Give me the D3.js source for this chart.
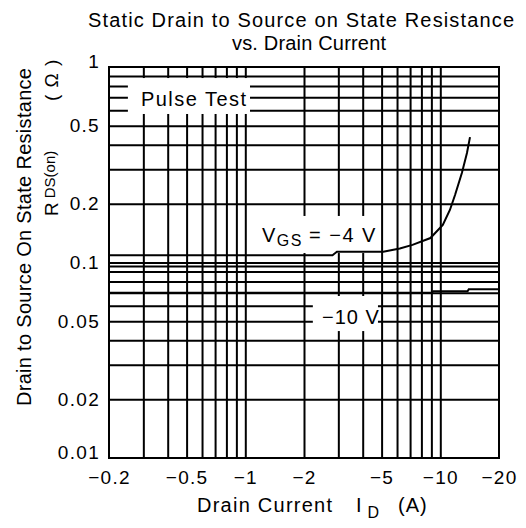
<!DOCTYPE html>
<html>
<head>
<meta charset="utf-8">
<script src="https://cdn.jsdelivr.net/npm/d3@7"></script>
<style>
  body { margin: 0; background: #fff; }
  text { font-family: "Liberation Sans", Arial, sans-serif; fill: #000; }
</style>
</head>
<body>
<div id="chart"></div>
<script>
// ---- data (drain current magnitude in A, resistance in ohm) ----
const xTicks = [0.2, 0.5, 1, 2, 5, 10, 20];
const xTickLabels = ["\u22120.2", "\u22120.5", "\u22121", "\u22122", "\u22125", "\u221210", "\u221220"];
const yTicks = [0.01, 0.02, 0.05, 0.1, 0.2, 0.5, 1];
const yTickLabels = ["0.01", "0.02", "0.05", "0.1", "0.2", "0.5", "1"];
const xGrid = [0.3, 0.4, 0.5, 0.6, 0.7, 0.8, 0.9, 1, 2, 3, 4, 5, 6, 7, 8, 9, 10];
const yGrid = [0.02, 0.03, 0.04, 0.05, 0.06, 0.07, 0.08, 0.09, 0.1,
               0.2, 0.3, 0.4, 0.5, 0.6, 0.7, 0.8, 0.9];

const idVgs4 = [0.2, 2.8, 2.95, 5.1, 6.2, 7.2, 8.9, 10.3, 11.2, 11.9, 12.9, 13.7, 14.2];
const rVgs4  = [0.109, 0.109, 0.1135, 0.1135, 0.118, 0.123, 0.1334, 0.1556, 0.1856, 0.2215, 0.287, 0.363, 0.438];
const idVgs10 = [0.2, 9.0, 9.2, 13.8, 14.0, 20];
const rVgs10  = [0.07, 0.07, 0.0712, 0.0712, 0.073, 0.073];
// extra trace just under 0.1 seen in the scan
const idExtra = [0.2, 20];
const rExtra  = [0.0955, 0.0955];

// ---- layout ----
const width = 526, height = 528;
const margin = { left: 109, right: 499, top: 67, bottom: 458 };

const x = d3.scaleLog().domain([0.2, 20]).range([margin.left, margin.right]);
const y = d3.scaleLog().domain([0.01, 1]).range([margin.bottom, margin.top]);

const svg = d3.select("#chart").append("svg")
  .attr("width", width)
  .attr("height", height);

svg.append("rect").attr("width", width).attr("height", height).attr("fill", "#fff");

// grid lines
const gx = svg.append("g")
  .attr("transform", "translate(0," + margin.bottom + ")")
  .call(d3.axisBottom(x).tickValues(xGrid).tickSize(-(margin.bottom - margin.top)).tickFormat(""));
const gy = svg.append("g")
  .attr("transform", "translate(" + margin.left + ",0)")
  .call(d3.axisLeft(y).tickValues(yGrid).tickSize(-(margin.right - margin.left)).tickFormat(""));
[gx, gy].forEach(g => {
  g.select(".domain").remove();
  g.selectAll("line").attr("stroke", "#000").attr("stroke-width", 2);
});

const line = d3.line().x(d => x(d[0])).y(d => y(d[1]));
svg.append("path")
  .datum(d3.zip(idExtra, rExtra))
  .attr("d", line).attr("fill", "none").attr("stroke", "#000").attr("stroke-width", 2);

// label boxes (data units) knocked out of the grid
const boxes = [
  { x0: 0.25, x1: 1.057, y0: 0.575, y1: 0.878 },
  { x0: 1.033, x1: 4.79, y0: 0.1118, y1: 0.173 },
  { x0: 2.22, x1: 4.79, y0: 0.0446, y1: 0.0674 }
];
svg.selectAll("rect.box").data(boxes).enter().append("rect")
  .attr("class", "box")
  .attr("x", d => x(d.x0))
  .attr("y", d => y(d.y1))
  .attr("width", d => x(d.x1) - x(d.x0))
  .attr("height", d => y(d.y0) - y(d.y1))
  .attr("fill", "#fff");

// frame
svg.append("rect")
  .attr("x", margin.left).attr("y", margin.top)
  .attr("width", margin.right - margin.left).attr("height", margin.bottom - margin.top)
  .attr("fill", "none").attr("stroke", "#000").attr("stroke-width", 2);

// curves
svg.append("path")
  .datum(d3.zip(idVgs4, rVgs4))
  .attr("d", line).attr("fill", "none").attr("stroke", "#000").attr("stroke-width", 2);
svg.append("path")
  .datum(d3.zip(idVgs10, rVgs10))
  .attr("d", line).attr("fill", "none").attr("stroke", "#000").attr("stroke-width", 2);

// tick labels
const xAxis = svg.append("g")
  .attr("transform", "translate(0," + margin.bottom + ")")
  .call(d3.axisBottom(x).tickValues(xTicks).tickSize(0).tickPadding(13)
    .tickFormat((d, i) => xTickLabels[i]));
const yAxis = svg.append("g")
  .attr("transform", "translate(" + margin.left + ",0)")
  .call(d3.axisLeft(y).tickValues(yTicks).tickSize(0).tickPadding(9)
    .tickFormat((d, i) => yTickLabels[i]));
[xAxis, yAxis].forEach(g => {
  g.select(".domain").remove();
  g.selectAll("text").attr("font-size", 19).attr("letter-spacing", 1.3)
    .attr("font-family", "Liberation Sans, Arial, sans-serif").attr("fill", "#000");
});
yAxis.selectAll(".tick text")
  .attr("dy", d => d === 1 ? "0.05em" : d === 0.01 ? "0.05em" : "0.32em");

// title
svg.append("text").attr("x", 88).attr("y", 27).attr("font-size", 20)
  .attr("textLength", 426).attr("lengthAdjust", "spacing")
  .text("Static Drain to Source on State Resistance");
svg.append("text").attr("x", 232).attr("y", 50).attr("font-size", 20)
  .attr("textLength", 154).attr("lengthAdjust", "spacing")
  .text("vs. Drain Current");

// x axis title
const xt = svg.append("text").attr("x", 197).attr("y", 512).attr("font-size", 20);
xt.append("tspan").attr("textLength", 135).attr("lengthAdjust", "spacing").text("Drain Current");
xt.append("tspan").attr("x", 356).text("I");
xt.append("tspan").attr("dy", 6).attr("dx", 6).attr("font-size", 16).text("D");
xt.append("tspan").attr("x", 398).attr("dy", -6).attr("letter-spacing", 1).text("(A)");

// y axis title
svg.append("text")
  .attr("transform", "translate(31,406) rotate(-90)")
  .attr("font-size", 20)
  .attr("textLength", 338).attr("lengthAdjust", "spacing")
  .text("Drain to Source On State Resistance");
const yt = svg.append("text")
  .attr("transform", "translate(58,216) rotate(-90)")
  .attr("font-size", 19);
yt.append("tspan").text("R");
yt.append("tspan").attr("dy", -3).attr("dx", 4).attr("font-size", 15).text("DS(on)");
svg.append("text")
  .attr("transform", "translate(58,101) rotate(-90)")
  .attr("font-size", 19).attr("letter-spacing", 1)
  .text("( \u03a9 )");

// curve / condition labels
svg.append("text").attr("x", 141).attr("y", 106).attr("font-size", 20)
  .attr("textLength", 105).attr("lengthAdjust", "spacing").text("Pulse Test");
const vg = svg.append("text").attr("x", 262).attr("y", 242).attr("font-size", 20)
  .attr("letter-spacing", 1.5);
vg.append("tspan").text("V");
vg.append("tspan").attr("dy", 4).attr("font-size", 16).text("GS");
vg.append("tspan").attr("dy", -4).attr("dx", 6).text("= \u22124 V");
svg.append("text").attr("x", 322).attr("y", 324).attr("font-size", 20)
  .attr("letter-spacing", 1).text("\u221210 V");
</script>
</body>
</html>
